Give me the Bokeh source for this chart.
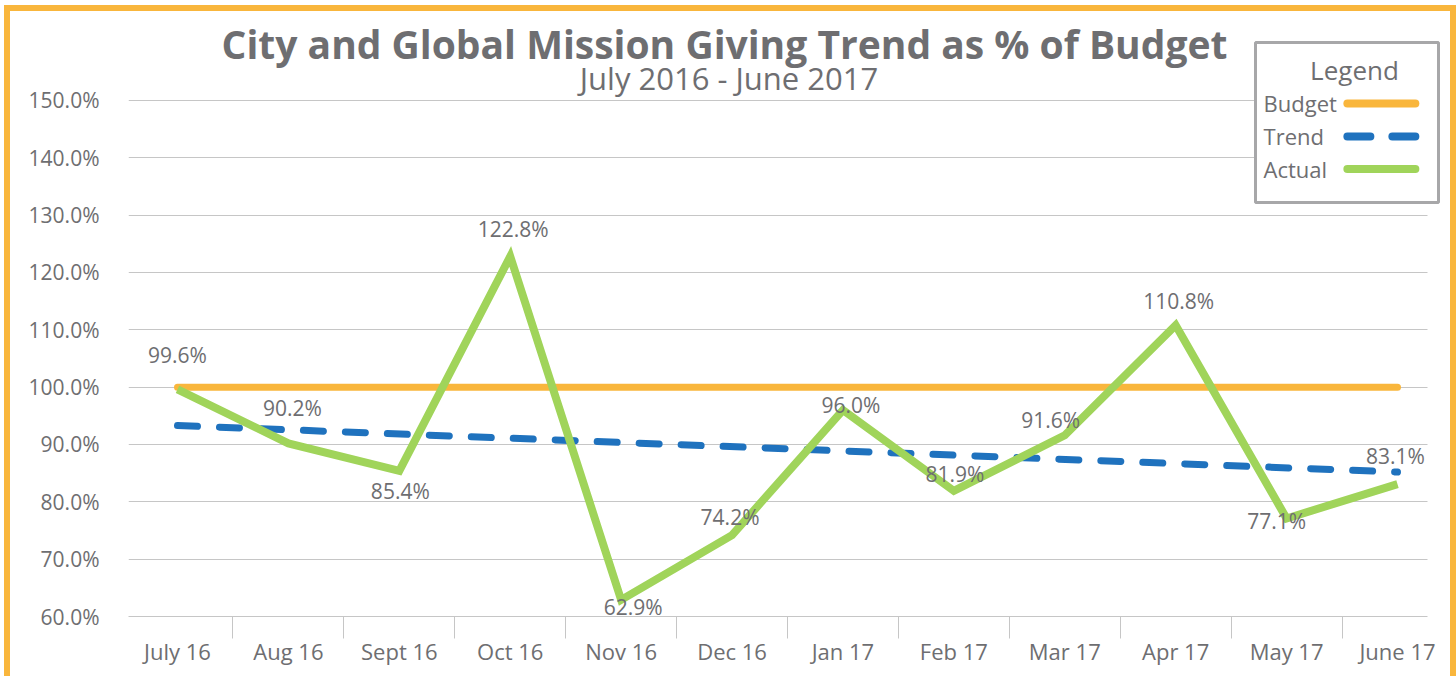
from bokeh.plotting import figure
from bokeh.models import Range1d, FixedTicker, PrintfTickFormatter, Label, ColumnDataSource
from bokeh.core.properties import value
from bokeh.embed import file_html
from bokeh.resources import INLINE

# ---------------- data ----------------
months = ["July 16", "Aug 16", "Sept 16", "Oct 16", "Nov 16", "Dec 16",
          "Jan 17", "Feb 17", "Mar 17", "Apr 17", "May 17", "June 17"]
actual = [99.6, 90.2, 85.4, 122.8, 62.9, 74.2, 96.0, 81.9, 91.6, 110.8, 77.1, 83.1]
budget = [100.0, 100.0, 100.0, 100.0, 100.0, 100.0,
          100.0, 100.0, 100.0, 100.0, 100.0, 100.0]
trend_months = [0, 11]
trend = [93.3, 85.2]
y_ticks = [60, 70, 80, 90, 100, 110, 120, 130, 140, 150]
legend_names = ["Budget", "Trend", "Actual"]

# label nudges (screen px, +dy = down)
label_dx = [0, 4, 1, 3, 12, -2, 8, 1, -14, 3, -10, -2]
label_dy = [-34, -35, 20, -27, 7, -18, -5, -17, -15, -24, 3, -28]

FONT = "Open Sans"
GRAY = "#6E6E71"
GRID = "#C6C6C6"
ORANGE = "#F9B63C"
BLUE = "#1F72BE"
GREEN = "#A0D45A"

idx = list(range(len(months)))
X0, X1 = -0.4418, 11.4779
GRID_RIGHT = 11.2705
Y0, Y1 = 60, 165.523

p = figure(width=1452, height=671, x_range=Range1d(X0, X1), y_range=Range1d(Y0, Y1),
           output_backend="svg", toolbar_location=None, title=None,
           min_border_left=118, min_border_right=12, min_border_top=0, min_border_bottom=66,
           outline_line_color=None, background_fill_color="white", border_fill_color="white")
p.styles = {"margin-left": "4px", "margin-top": "5px",
            "border-top": f"6px solid {ORANGE}", "border-left": f"6px solid {ORANGE}",
            "border-right": f"6px solid {ORANGE}"}

# axes
p.xaxis.ticker = FixedTicker(ticks=idx, minor_ticks=[k + 0.5 for k in range(len(months) - 1)])
p.xaxis.major_label_overrides = {i: m for i, m in enumerate(months)}
p.xaxis.bounds = (X0, GRID_RIGHT)
p.xaxis.axis_line_color = GRID
p.xaxis.major_tick_line_color = None
p.xaxis.major_tick_out = 0
p.xaxis.major_tick_in = 0
p.xaxis.minor_tick_line_color = GRID
p.xaxis.minor_tick_out = 22
p.xaxis.minor_tick_in = 0
p.xaxis.major_label_standoff = -3
p.xaxis.major_label_text_font = FONT
p.xaxis.major_label_text_font_size = "22px"
p.xaxis.major_label_text_color = GRAY

p.yaxis.ticker = FixedTicker(ticks=y_ticks)
p.yaxis.formatter = PrintfTickFormatter(format="%.1f%%")
p.yaxis.axis_line_color = None
p.yaxis.major_tick_line_color = None
p.yaxis.minor_tick_line_color = None
p.yaxis.major_tick_out = 0
p.yaxis.minor_tick_out = 0
p.yaxis.major_label_standoff = 29
p.yaxis.major_label_text_font = FONT
p.yaxis.major_label_text_font_size = "21px"
p.yaxis.major_label_text_color = GRAY

p.xgrid.visible = False
p.ygrid.grid_line_color = GRID
p.ygrid.grid_line_width = 1
try:
    p.ygrid.cross_bounds = (X0, GRID_RIGHT)
except Exception:
    pass

# series (green drawn last, on top)
p.line(idx, budget, color=ORANGE, line_width=7, line_cap="round")
p.line(trend_months, trend, color=BLUE, line_width=7, line_dash="20 22", line_cap="round")
p.line(idx, actual, color=GREEN, line_width=8, line_join="miter")

src = ColumnDataSource(dict(x=idx, y=actual, t=[f"{v:.1f}%" for v in actual],
                            dx=label_dx, dy=label_dy))
p.text(x="x", y="y", text="t", x_offset="dx", y_offset="dy", source=src,
       text_font=value(FONT), text_font_size="21px", text_color=GRAY,
       text_align="center", text_baseline="middle")

# titles
p.add_layout(Label(x=4.932, y=159.94, text="City and Global Mission Giving Trend as % of Budget",
                   text_font=FONT, text_font_size="39px", text_font_style="bold",
                   text_color=GRAY, text_align="center", text_baseline="middle"))
p.add_layout(Label(x=4.972, y=153.84, text="July 2016 - June 2017",
                   text_font=FONT, text_font_size="31px",
                   text_color=GRAY, text_align="center", text_baseline="middle"))

# legend (label on the left, sample line on the right)
p.quad(left=[9.7197], right=[11.3697], top=[160.116], bottom=[132.209],
       fill_color="white", line_color="#A7A7A9", line_width=3)
p.add_layout(Label(x=10.612, y=155.233, text="Legend", text_font=FONT, text_font_size="26px",
                   text_color=GRAY, text_align="center", text_baseline="middle"))
leg_y = [149.477, 143.721, 138.052]
leg_colors = [ORANGE, BLUE, GREEN]
leg_dash = ["solid", "23 22", "solid"]
for name, yy, c, d in zip(legend_names, leg_y, leg_colors, leg_dash):
    p.add_layout(Label(x=9.792, y=yy, text=name, text_font=FONT, text_font_size="22px",
                       text_color=GRAY, text_align="left", text_baseline="middle"))
    p.line([10.548, 11.161], [yy, yy], color=c, line_width=8, line_cap="round", line_dash=d)

open("out.html", "w").write(file_html(p, INLINE))
